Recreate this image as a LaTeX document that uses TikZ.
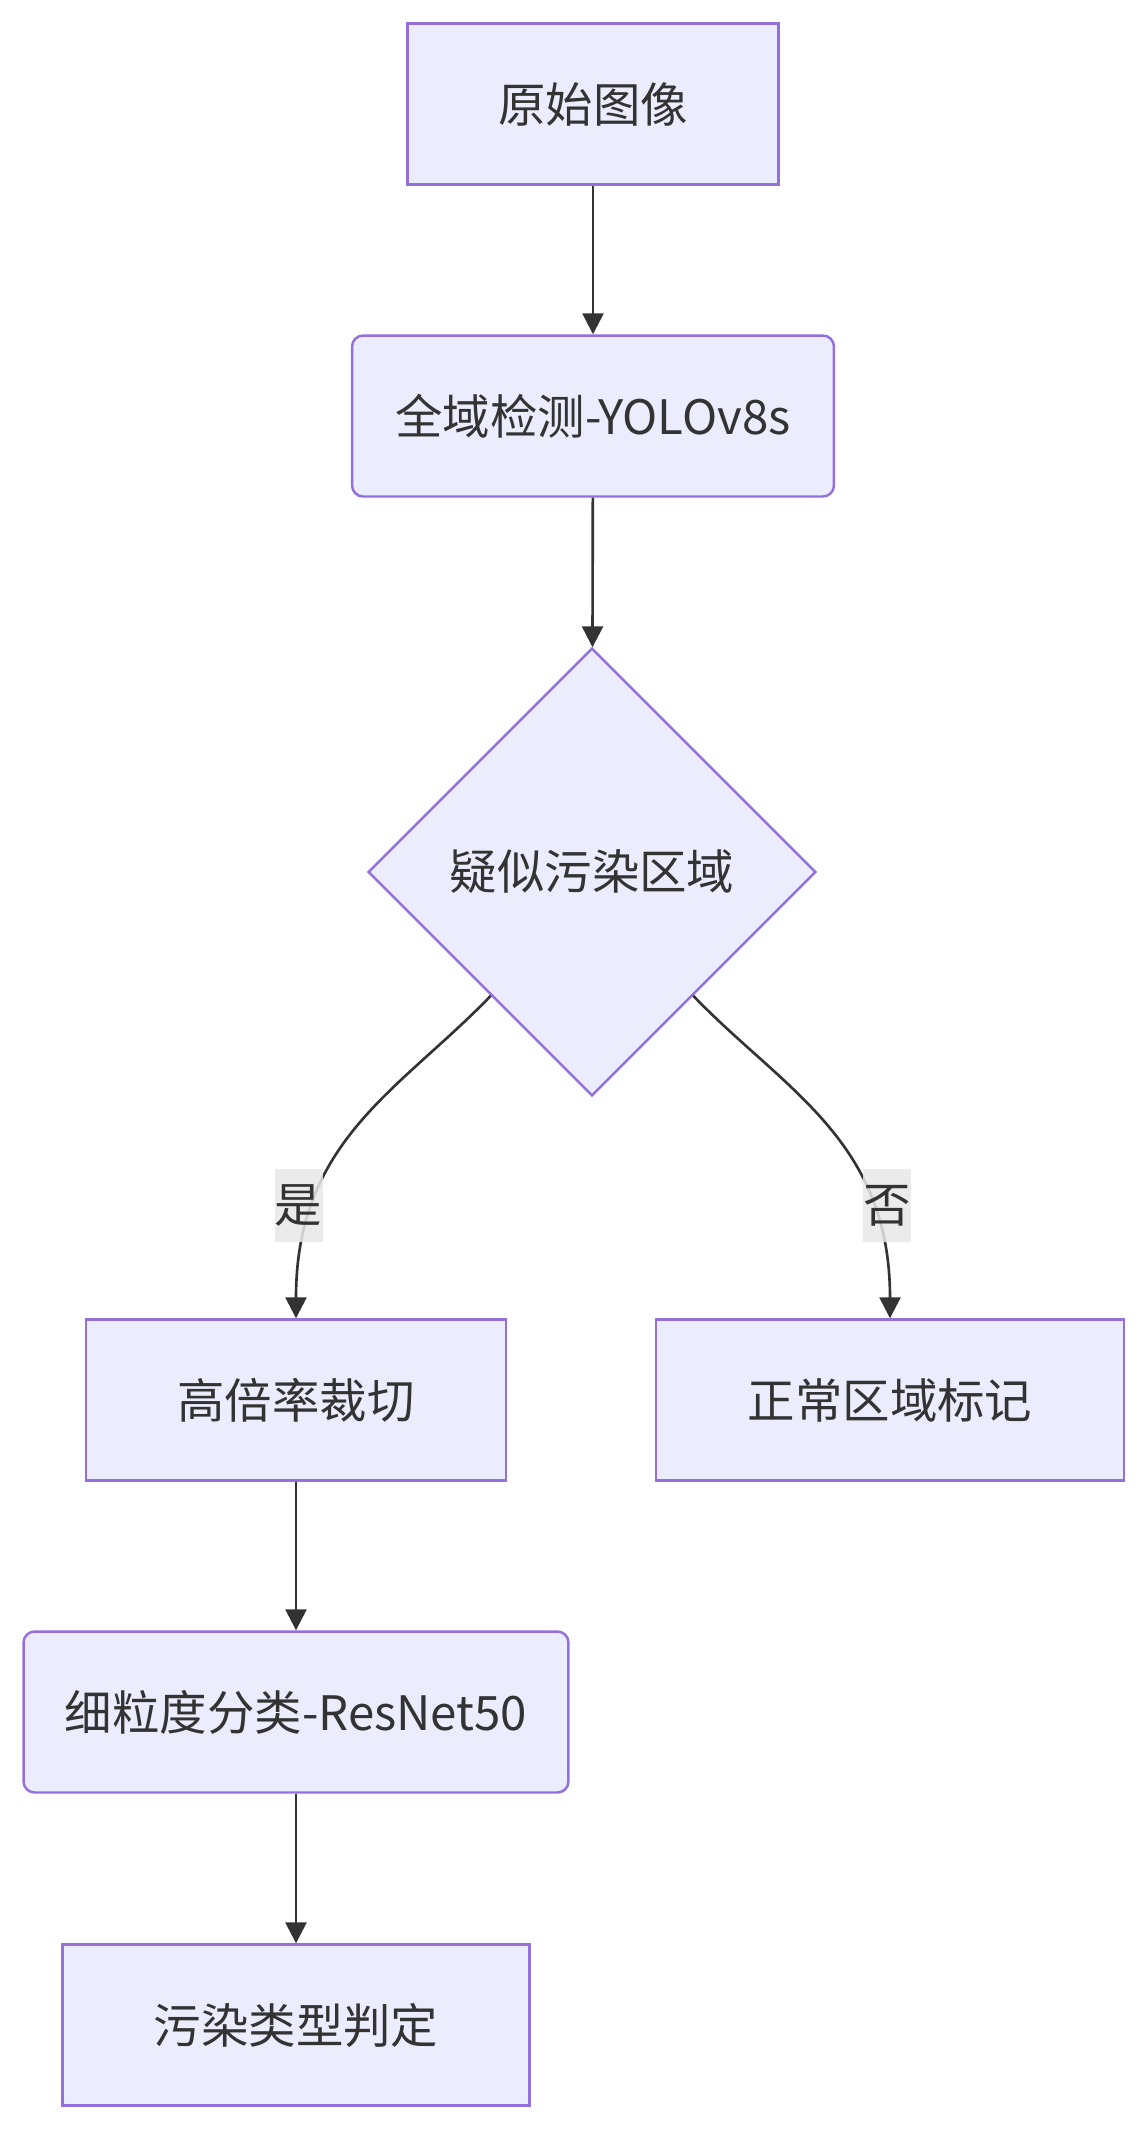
\documentclass[tikz,border=0pt]{standalone}
\usepackage{fontspec}
\newfontfamily\cjk{Noto Sans CJK SC}
\usetikzlibrary{arrows.meta,shapes.geometric,calc}
\definecolor{boxfill}{HTML}{ECECFF}
\definecolor{boxline}{HTML}{9370DB}
\definecolor{ink}{HTML}{333333}
\definecolor{labelbg}{HTML}{E8E8E8}

\begin{document}
\begin{tikzpicture}[x=0.02cm,y=-0.02cm]
    \tikzstyle{stepbox} = [draw=boxline,fill=boxfill,line width=1.4pt,text=ink,font=\cjk\fontsize{27pt}{32pt}\selectfont,minimum height=3.22cm,inner sep=0pt]
    \tikzstyle{modelbox} = [stepbox,rounded corners=0.22cm]
    \tikzstyle{decision} = [stepbox,diamond,aspect=1,minimum width=8.96cm,minimum height=8.96cm]
    \tikzstyle{flow} = [draw=ink,line width=1.5pt,-{Triangle[length=0.42cm,width=0.42cm]}]
    \tikzstyle{answer} = [fill=labelbg,fill opacity=0.85,text opacity=1,text=ink,font=\cjk\fontsize{27pt}{32pt}\selectfont,minimum width=0.96cm,minimum height=1.46cm,inner sep=0pt]
    \useasboundingbox (0,0) rectangle (1148,2130);
    \node [stepbox,minimum width=7.42cm] (img) at (593, 104) {原始图像};
    \node [modelbox,minimum width=9.64cm] (det) at (593, 416) {全域检测-YOLOv8s};
    \node [decision] (sus) at (592, 872) {疑似污染区域};
    \node [stepbox,minimum width=8.4cm] (crop) at (296, 1400) {高倍率裁切};
    \node [stepbox,minimum width=9.36cm] (norm) at (890, 1400) {正常区域标记};
    \node [modelbox,minimum width=10.9cm] (cls) at (296, 1712) {细粒度分类-ResNet50};
    \node [stepbox,minimum width=9.34cm] (type) at (296, 2025) {污染类型判定};
    \draw [flow] (img) -- (det);
    \draw [flow] (det) -- (sus);
    \draw [flow] ($(sus.south west)!0.1!(sus.south)$) .. controls (400,1090) and (296,1140) .. node [answer,pos=0.75,xshift=-0.3cm] {是} (crop.north);
    \draw [flow] ($(sus.south east)!0.1!(sus.south)$) .. controls (784,1090) and (890,1140) .. node [answer,pos=0.75,xshift=0.3cm] {否} (norm.north);
    \draw [flow] (crop) -- (cls);
    \draw [flow] (cls) -- (type);
\end{tikzpicture}
\end{document}
